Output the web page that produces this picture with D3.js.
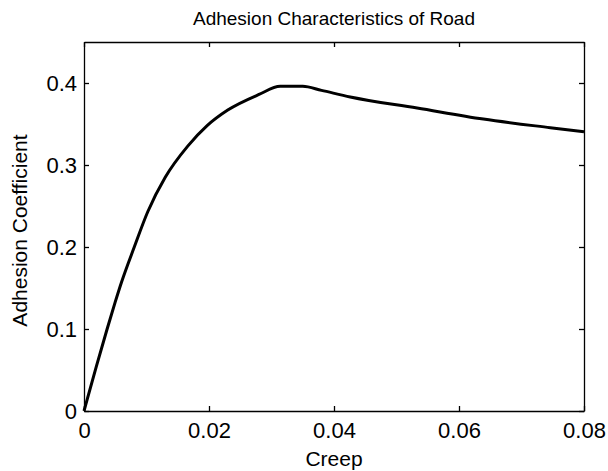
<!DOCTYPE html>
<html>
<head>
<meta charset="utf-8">
<script src="https://cdn.jsdelivr.net/npm/d3@7"></script>
<style>
  html, body { margin: 0; padding: 0; background: #fff; }
  text { font-family: "Liberation Sans", Arial, sans-serif; fill: #000; }
</style>
</head>
<body>
<svg id="chart" width="608" height="471"></svg>
<script>
const titleText = "Adhesion Characteristics of Road";
const xLabel = "Creep";
const yLabel = "Adhesion Coefficient";
const xTicks = [0, 0.02, 0.04, 0.06, 0.08];
const xTickLabels = ["0", "0.02", "0.04", "0.06", "0.08"];
const yTicks = [0, 0.1, 0.2, 0.3, 0.4];
const yTickLabels = ["0", "0.1", "0.2", "0.3", "0.4"];
const creep = [0, 0.0005, 0.002, 0.0037, 0.005, 0.006, 0.008, 0.0102, 0.013, 0.0166, 0.0197, 0.023, 0.028, 0.0314, 0.035, 0.038, 0.0426, 0.0533, 0.0639, 0.0746, 0.08];
const adhesion = [0, 0.014, 0.055, 0.10, 0.133, 0.157, 0.199, 0.243, 0.285, 0.323, 0.348, 0.367, 0.386, 0.396, 0.396, 0.391, 0.383, 0.3695, 0.356, 0.3455, 0.3405];

const svg = d3.select("#chart");
const m = {left: 84, top: 42, right: 584, bottom: 411};
const x = d3.scaleLinear().domain([0, 0.08]).range([m.left, m.right]);
const y = d3.scaleLinear().domain([0, 0.45]).range([m.bottom, m.top]);
const tickLen = 5;

const gB = svg.append("g").attr("transform", `translate(0,${m.bottom})`)
  .call(d3.axisBottom(x).tickValues(xTicks).tickSizeInner(-tickLen).tickSizeOuter(0).tickPadding(12)
    .tickFormat((d, i) => xTickLabels[i]));
const gT = svg.append("g").attr("transform", `translate(0,${m.top})`)
  .call(d3.axisTop(x).tickValues(xTicks).tickSizeInner(-tickLen).tickSizeOuter(0).tickFormat(""));
const gL = svg.append("g").attr("transform", `translate(${m.left},0)`)
  .call(d3.axisLeft(y).tickValues(yTicks).tickSizeInner(-tickLen).tickSizeOuter(0).tickPadding(12)
    .tickFormat((d, i) => yTickLabels[i]));
const gR = svg.append("g").attr("transform", `translate(${m.right},0)`)
  .call(d3.axisRight(y).tickValues(yTicks).tickSizeInner(-tickLen).tickSizeOuter(0).tickFormat(""));

[gB, gT, gL, gR].forEach(g => {
  g.select(".domain").attr("stroke", "#000").attr("stroke-width", 1.3);
  g.selectAll(".tick line").attr("stroke", "#000").attr("stroke-width", 1.3);
  g.selectAll(".tick text").attr("font-size", 22).attr("font-family", "Liberation Sans, Arial, sans-serif").attr("fill", "#000");
});
gB.selectAll(".tick text").attr("dy", "0.71em").attr("y", 11);
gL.selectAll(".tick text").attr("x", -7).attr("dy", "0.36em");

const line = d3.line().x(d => x(d[0])).y(d => y(d[1])).curve(d3.curveMonotoneX);
svg.append("path")
  .datum(creep.map((c, i) => [c, adhesion[i]]))
  .attr("d", line)
  .attr("fill", "none")
  .attr("stroke", "#000")
  .attr("stroke-width", 3)
  .attr("stroke-linejoin", "round");

svg.append("text").attr("x", (m.left + m.right) / 2).attr("y", 25)
  .attr("text-anchor", "middle").attr("font-size", 19).text(titleText);
svg.append("text").attr("x", (m.left + m.right) / 2).attr("y", 466)
  .attr("text-anchor", "middle").attr("font-size", 21).text(xLabel);
svg.append("text").attr("transform", `translate(27,${(m.top + m.bottom) / 2 + 4}) rotate(-90)`)
  .attr("text-anchor", "middle").attr("font-size", 21).text(yLabel);
</script>
</body>
</html>
